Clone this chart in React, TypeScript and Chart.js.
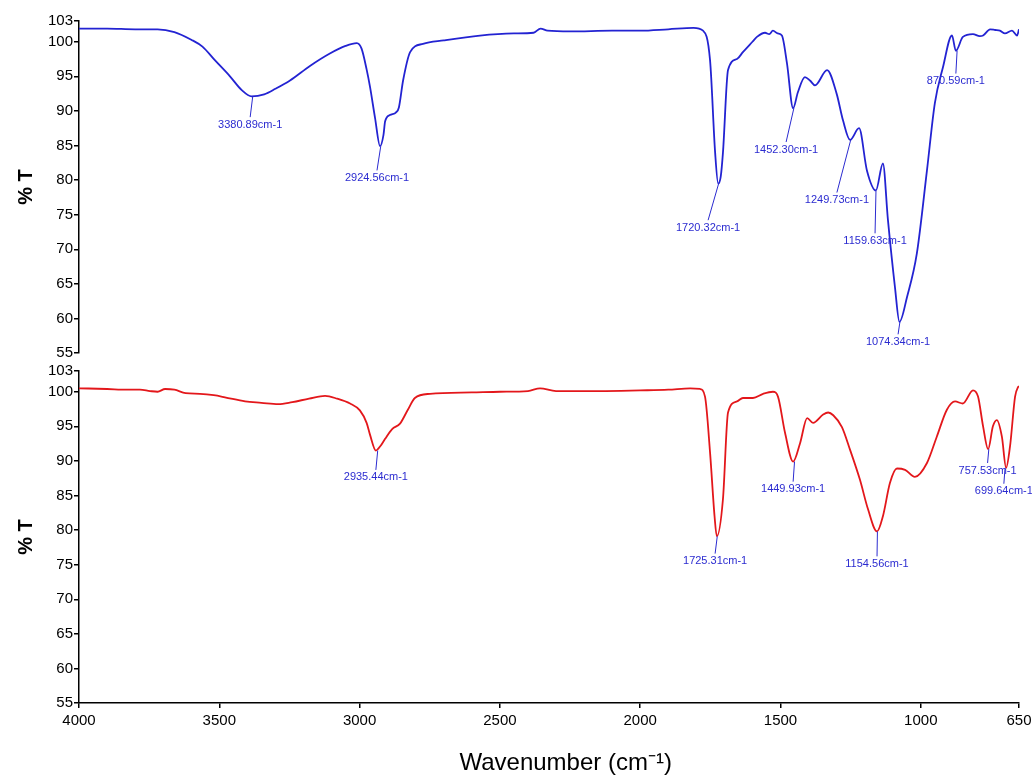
import { useEffect, useRef } from 'react';
import { Chart, registerables } from 'chart.js';

Chart.register(...registerables);

// ---------- Data ----------
const xTickValues = [4000, 3500, 3000, 2500, 2000, 1500, 1000, 650];
const yTickValues = [55, 60, 65, 70, 75, 80, 85, 90, 95, 100, 103];

const topWavenumbers = [
  4000, 3900, 3800, 3720, 3660, 3600, 3560, 3515, 3462, 3420, 3385, 3340, 3300, 3248, 3177, 3106, 3050, 3010,
  2993, 2975, 2963, 2945, 2927, 2915, 2909, 2892, 2870, 2860, 2845, 2820, 2774, 2700, 2571, 2450, 2380, 2355,
  2330, 2250, 2100, 2000, 1900, 1810, 1776, 1751, 1733, 1722, 1713, 1705, 1687, 1655, 1634, 1600, 1584, 1555,
  1540, 1527, 1510, 1495, 1477, 1455, 1438, 1413, 1395, 1377, 1334, 1300, 1277, 1252, 1220, 1192, 1160, 1135,
  1117, 1092, 1076, 1049, 1014, 978, 950, 921, 889, 875, 850, 814, 790, 778, 753, 735, 718, 700, 675, 657, 650,
];
const topTransmittance = [
  101.9, 101.9, 101.8, 101.8, 101.4, 100.3, 99.3, 97.3, 95.0, 93.0, 92.1, 92.4, 93.2, 94.4, 96.5, 98.3, 99.4, 99.8,
  99.0, 96.0, 93.5, 89.0, 84.9, 86.5, 88.5, 89.4, 89.8, 90.5, 94.4, 98.5, 99.7, 100.2, 100.9, 101.2, 101.3, 101.9,
  101.6, 101.5, 101.6, 101.6, 101.8, 102.0, 101.6, 97.3, 84.0, 79.5, 80.5, 84.0, 95.9, 97.5, 98.5, 100.0, 100.7, 101.3,
  101.1, 101.6, 101.2, 100.9, 96.9, 90.4, 92.7, 94.9, 94.4, 93.7, 95.9, 92.5, 88.6, 85.8, 87.5, 81.4, 78.5, 82.4,
  74.2, 64.5, 59.5, 63.1, 69.4, 81.4, 91.1, 96.3, 100.9, 98.7, 100.7, 101.1, 100.8, 100.9, 101.8, 101.7, 101.6, 101.2, 101.6, 100.9, 101.8,
];

const bottomWavenumbers = [
  4000, 3900, 3830, 3783, 3747, 3720, 3693, 3660, 3620, 3569, 3520, 3480, 3408, 3350, 3290, 3240, 3180, 3123,
  3080, 3034, 2999, 2975, 2963, 2942, 2925, 2909, 2884, 2856, 2828, 2803, 2749, 2600, 2500, 2400, 2357, 2300,
  2143, 2000, 1900, 1822, 1787, 1769, 1751, 1735, 1727, 1705, 1687, 1655, 1634, 1598, 1562, 1527, 1509,
  1484, 1455, 1430, 1405, 1384, 1348, 1330, 1312, 1281, 1252, 1217, 1188, 1156, 1135, 1110, 1085, 1056, 1021, 978,
  943, 907, 878, 850, 814, 796, 778, 760, 743, 729, 711, 696, 682, 664, 653, 650,
];
const bottomTransmittance = [
  100.5, 100.4, 100.3, 100.3, 100.1, 100.0, 100.4, 100.3, 99.8, 99.7, 99.5, 99.2, 98.6, 98.4, 98.2, 98.5, 99.0, 99.4,
  99.0, 98.3, 97.3, 95.5, 93.8, 91.5, 92.2, 93.2, 94.6, 95.4, 97.4, 99.1, 99.7, 99.9, 100.0, 100.1, 100.5, 100.1,
  100.1, 100.2, 100.3, 100.5, 100.4, 99.3, 91.2, 82.0, 79.1, 84.5, 97.0, 98.6, 99.1, 99.1, 99.7, 100.0, 99.3,
  94.1, 89.9, 92.6, 96.2, 95.5, 96.7, 97.0, 96.6, 94.9, 91.6, 87.3, 83.0, 79.8, 82.0, 86.8, 88.9, 88.7, 87.7, 89.7,
  93.5, 97.4, 98.6, 98.3, 100.2, 99.3, 95.0, 91.7, 95.0, 95.9, 93.5, 89.0, 92.1, 99.3, 100.7, 100.8,
];

// Peak annotations (wavenumber of the labelled peak, its %T, and where the leader line ends)
const topPeakWavenumbers = [3380.89, 2924.56, 1720.32, 1452.3, 1249.73, 1159.63, 1074.34, 870.59];
const topPeakValues = [92.1, 84.9, 79.5, 90.4, 85.8, 78.5, 59.5, 98.7];
const topLeaderEndWavenumbers = [3390, 2938, 1758, 1480, 1299, 1163, 1081, 875];
const topLeaderEndValues = [89.1, 81.4, 74.2, 85.5, 78.2, 72.3, 57.7, 95.4];

const bottomPeakWavenumbers = [2935.44, 1725.31, 1449.93, 1154.56, 757.53, 699.64];
const bottomPeakValues = [91.5, 79.1, 89.9, 79.8, 91.7, 89.0];
const bottomLeaderEndWavenumbers = [2942, 1733, 1455, 1156, 762, 704];
const bottomLeaderEndValues = [88.7, 76.6, 87.0, 76.2, 89.7, 86.7];

// ---------- Styling ----------
const TICK_FONT = "'Liberation Sans', Arial, sans-serif";
const LABEL_FONT = "'Liberation Sans', Arial, sans-serif";
const BLUE = '#2323d2';
const RED = '#e3171b';
const LABEL_BLUE = '#2b2bd0';

function toPoints(xs: number[], ys: number[]) {
  return xs.map((x, i) => ({ x, y: ys[i] }));
}

function peakPlugin(px: number[], py: number[], ex: number[], ey: number[]) {
  return {
    id: 'peakLabels',
    afterDatasetsDraw(chart: any) {
      const { ctx } = chart;
      const xs = chart.scales.x;
      const ys = chart.scales.y;
      ctx.save();
      ctx.strokeStyle = LABEL_BLUE;
      ctx.fillStyle = LABEL_BLUE;
      ctx.lineWidth = 1;
      ctx.font = `11px ${LABEL_FONT}`;
      ctx.textAlign = 'center';
      ctx.textBaseline = 'top';
      px.forEach((w, i) => {
        const x0 = xs.getPixelForValue(w);
        const y0 = ys.getPixelForValue(py[i]);
        const x1 = xs.getPixelForValue(ex[i]);
        const y1 = ys.getPixelForValue(ey[i]);
        ctx.beginPath();
        ctx.moveTo(x0, y0);
        ctx.lineTo(x1, y1);
        ctx.stroke();
        ctx.fillText(`${w.toFixed(2)}cm-1`, x1, y1 + 2);
      });
      ctx.restore();
    },
  };
}

function buildConfig(
  data: { x: number; y: number }[],
  color: string,
  showX: boolean,
  padTop: number,
  padBottom: number,
  plugin: any
): any {
  return {
    type: 'line',
    data: {
      datasets: [
        {
          data,
          borderColor: color,
          borderWidth: 1.8,
          pointRadius: 0,
          fill: false,
          cubicInterpolationMode: 'monotone',
        },
      ],
    },
    options: {
      responsive: false,
      animation: false,
      layout: { padding: { left: 0, right: 13, top: padTop, bottom: padBottom } },
      plugins: { legend: { display: false }, tooltip: { enabled: false } },
      scales: {
        x: {
          type: 'linear',
          reverse: true,
          min: 650,
          max: 4000,
          display: showX,
          afterBuildTicks: (s: any) => {
            s.ticks = xTickValues.map((v) => ({ value: v }));
          },
          afterFit: (s: any) => {
            s.height = showX ? 75 : 0;
            s.paddingLeft = 0;
            s.paddingRight = 0;
          },
          ticks: {
            autoSkip: false,
            maxRotation: 0,
            padding: 4,
            color: '#000',
            font: { family: TICK_FONT, size: 15 },
            callback: (v: any) => String(v),
          },
          grid: { drawOnChartArea: false, drawTicks: true, tickLength: 5, color: '#000', lineWidth: 1.5 },
          border: { display: true, color: '#000', width: 1.5 },
          title: {
            display: true,
            text: '     Wavenumber (cm⁻¹)',
            color: '#000',
            font: { family: LABEL_FONT, size: 24 },
            padding: { top: 0, bottom: 0 },
          },
        },
        y: {
          min: 55,
          max: 103,
          afterBuildTicks: (s: any) => {
            s.ticks = yTickValues.map((v) => ({ value: v }));
          },
          afterFit: (s: any) => {
            s.width = 79;
            s.paddingTop = 0;
            s.paddingBottom = 0;
          },
          ticks: {
            autoSkip: false,
            padding: 1,
            color: '#000',
            font: { family: TICK_FONT, size: 15 },
            callback: (v: any) => String(v),
          },
          grid: { drawOnChartArea: false, drawTicks: true, tickLength: 5, color: '#000', lineWidth: 1.5 },
          border: { display: true, color: '#000', width: 1.5 },
          title: {
            display: true,
            text: '% T',
            color: '#000',
            font: { family: LABEL_FONT, size: 20, weight: 'bold' },
            padding: { top: 14, bottom: 0 },
          },
        },
      },
    },
    plugins: [plugin],
  };
}

export default function App() {
  const topRef = useRef<HTMLCanvasElement | null>(null);
  const bottomRef = useRef<HTMLCanvasElement | null>(null);

  useEffect(() => {
    const top = new Chart(
      topRef.current as HTMLCanvasElement,
      buildConfig(
        toPoints(topWavenumbers, topTransmittance),
        BLUE,
        false,
        21,
        7,
        peakPlugin(topPeakWavenumbers, topPeakValues, topLeaderEndWavenumbers, topLeaderEndValues)
      )
    );
    const bottom = new Chart(
      bottomRef.current as HTMLCanvasElement,
      buildConfig(
        toPoints(bottomWavenumbers, bottomTransmittance),
        RED,
        true,
        11,
        0,
        peakPlugin(bottomPeakWavenumbers, bottomPeakValues, bottomLeaderEndWavenumbers, bottomLeaderEndValues)
      )
    );
    return () => {
      top.destroy();
      bottom.destroy();
    };
  }, []);

  return (
    <div style={{ position: 'absolute', left: 0, top: 0, width: 1032, height: 778, background: '#fff' }}>
      <canvas
        ref={topRef}
        width={1032}
        height={360}
        style={{ position: 'absolute', left: 0, top: 0, width: 1032, height: 360 }}
      />
      <canvas
        ref={bottomRef}
        width={1032}
        height={418}
        style={{ position: 'absolute', left: 0, top: 360, width: 1032, height: 418 }}
      />
    </div>
  );
}
